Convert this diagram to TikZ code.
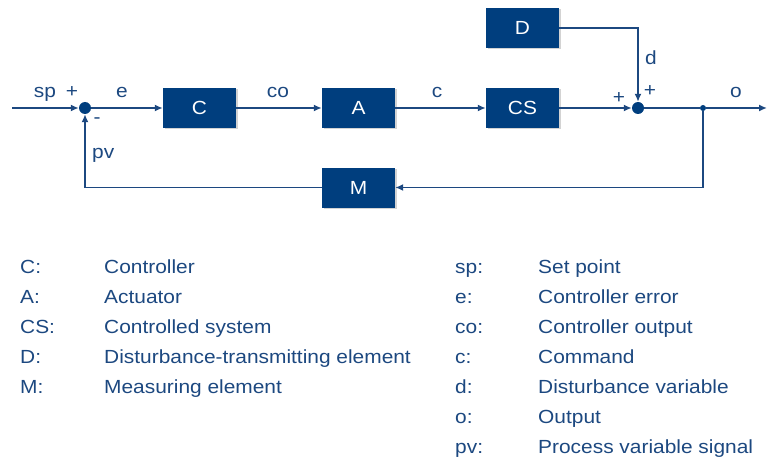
\documentclass[tikz,border=0pt]{standalone}
\usepackage{fontspec}
\setmainfont{Liberation Sans}[FakeStretch=1.1]
\usetikzlibrary{arrows.meta,shadows}
\definecolor{boxblue}{RGB}{0,62,126}
\definecolor{lineblue}{RGB}{28,72,128}

\begin{document}
\begin{tikzpicture}[x=1pt,y=-1pt,
  font=\fontsize{19}{22}\selectfont, text=lineblue,
  block/.style={rectangle, fill=boxblue, text=white, minimum width=73pt, minimum height=40pt,
    inner sep=0pt, drop shadow={opacity=0.35, shadow xshift=1.5pt, shadow yshift=-1.5pt}},
  sumpt/.style={circle, fill=boxblue, inner sep=0pt, minimum size=12pt},
  branchpt/.style={circle, fill=boxblue, inner sep=0pt, minimum size=6pt},
  sig/.style={draw=lineblue, line width=1.6pt, -{Latex[length=8pt,width=7pt]}},
  wire/.style={draw=lineblue, line width=1.6pt},
  lbl/.style={inner sep=0pt, anchor=base}]
\useasboundingbox (0,0) rectangle (767,457);

\coordinate (in) at (12,108);
\node[sumpt] (sum1) at (85,108) {};
\node[block] (C) at (199.5,108) {C};
\node[block] (A) at (358.5,108) {A};
\node[block] (CS) at (522.5,108) {CS};
\node[block] (D) at (522.5,28) {D};
\node[block] (M) at (358.5,187.5) {M};
\node[sumpt] (sum2) at (638,108) {};
\node[branchpt] (branch) at (703,108) {};
\coordinate (out) at (767,108);

\path[sig] (in) -- (sum1.west);
\path[sig] (sum1) -- (C);
\path[sig] (C) -- (A);
\path[sig] (A) -- (CS);
\path[sig] (CS) -- (sum2.west);
\path[wire] (sum2) -- (branch);
\path[sig] (branch) -- (out);
\path[sig] (D.east) -| (sum2.north);
\path[sig] (branch) |- (M.east);
\path[sig] (M.west) -| (sum1.south);

\node[lbl] (lsp) at (45,98) {sp};
\node[lbl] (lp1) at (72,98) {+};
\node[lbl] (le) at (122,98) {e};
\node[lbl] (lco) at (278,98) {co};
\node[lbl] (lc) at (437,98) {c};
\node[lbl] (lp2) at (619,104) {+};
\node[lbl] (lp3) at (650,97) {+};
\node[lbl] (ld) at (651,65) {d};
\node[lbl] (lo) at (736,98) {o};
\node[lbl] (lm) at (97,124) {-};
\node[lbl, anchor=base west] (lpv) at (92,158) {pv};

\foreach \k/\t/\y [count=\i] in {C/Controller/273, A/Actuator/303, CS/Controlled system/333,
    D/Disturbance-transmitting element/363, M/Measuring element/393}
  {\node[lbl, anchor=base west] (key\i) at (20,\y) {\k:};
   \node[lbl, anchor=base west] (txt\i) at (104,\y) {\t};}
\foreach \k/\t/\y [count=\i] in {sp/Set point/273, e/Controller error/303, co/Controller output/333,
    c/Command/363, d/Disturbance variable/393, o/Output/423, pv/Process variable signal/453}
  {\node[lbl, anchor=base west] (rkey\i) at (455,\y) {\k:};
   \node[lbl, anchor=base west] (rtxt\i) at (538,\y) {\t};}
\end{tikzpicture}
\end{document}
